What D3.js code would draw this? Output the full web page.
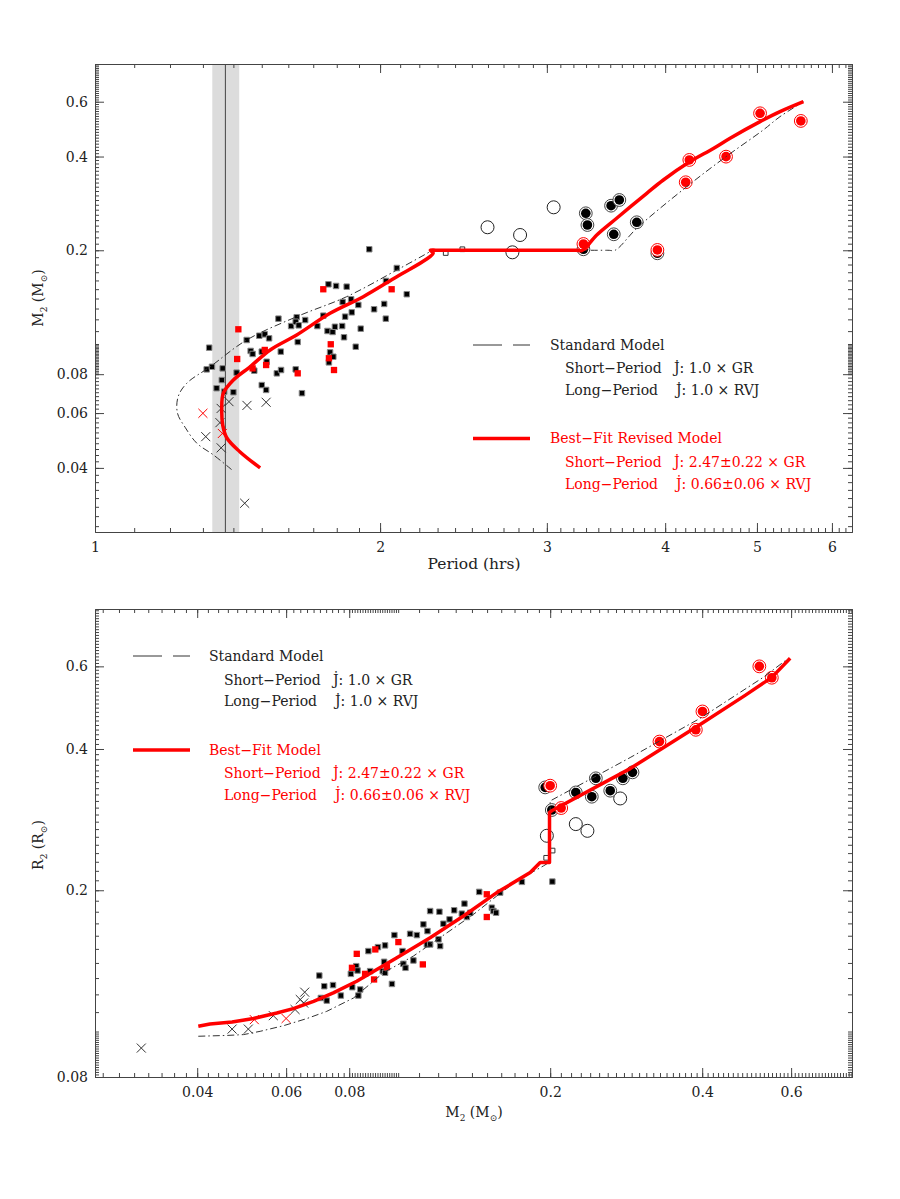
<!DOCTYPE html>
<html>
<head>
<meta charset="utf-8">
<script src="https://cdn.jsdelivr.net/npm/d3@7"></script>
<style>
body { margin: 0; background: #fff; }
svg text { font-family: "DejaVu Serif", serif; }
</style>
</head>
<body>
<svg id="chart" width="900" height="1199"></svg>
<script>
// ---- top panel: period (hrs) vs donor mass ----
var topSquaresBlack = [[1.320,0.0973],[1.312,0.0829],[1.329,0.0845],[1.364,0.0835],[1.361,0.0766],[1.344,0.0721],[1.369,0.0703],[1.400,0.0700],[1.411,0.0809],[1.446,0.1030],[1.491,0.1063],[1.511,0.1074],[1.527,0.1043],[1.460,0.0950],[1.467,0.0929],[1.500,0.0945],[1.518,0.0877],[1.473,0.0821],[1.500,0.0738],[1.516,0.0712],[1.556,0.0805],[1.572,0.0825],[1.571,0.0945],[1.562,0.1206],[1.611,0.1142],[1.633,0.1219],[1.629,0.1179],[1.641,0.1148],[1.667,0.1194],[1.629,0.0829],[1.637,0.1015],[1.654,0.0695],[1.717,0.1142],[1.742,0.1233],[1.764,0.1555],[1.797,0.1536],[1.844,0.1528],[1.826,0.1364],[1.864,0.1392],[1.837,0.1224],[1.867,0.1264],[1.897,0.1335],[1.760,0.1101],[1.782,0.1093],[1.792,0.1136],[1.824,0.1142],[1.832,0.1051],[1.908,0.1120],[1.885,0.0980],[1.771,0.0940],[1.785,0.0910],[1.766,0.0873],[1.948,0.2015],[1.971,0.1293],[2.020,0.1345],[2.028,0.1206],[2.029,0.1594],[2.083,0.1754],[2.134,0.1445]];
var topSquaresRed = [[1.417,0.1115],[1.413,0.0895],[1.467,0.0835],[1.511,0.0957],[1.516,0.0856],[1.637,0.0805],[1.742,0.1499],[1.774,0.0998],[1.766,0.0900],[1.788,0.0825],[2.057,0.1499]];
var topSquaresOpen = [[2.346,0.196],[2.443,0.2015]];
var topCrossesBlack = [[1.309,0.0504],[1.359,0.0621],[1.355,0.0559],[1.359,0.0464],[1.385,0.0653],[1.447,0.0635],[1.516,0.0650],[1.439,0.0308]];
var topCrossesRed = [[1.300,0.0599],[1.363,0.0516]];
var topCirclesOpen = [[2.597,0.2371],[2.811,0.2239],[3.050,0.2748],[2.759,0.1970]];
var topCirclesBlack = [[3.298,0.2629],[3.311,0.2411],[3.507,0.2781],[3.578,0.2901],[3.530,0.2251],[3.733,0.2460],[3.279,0.2015],[3.925,0.1956]];
var topCirclesRed = [[3.279,0.2095],[3.925,0.2005],[4.242,0.3901],[4.205,0.3307],[4.638,0.3997],[5.038,0.5508],[5.563,0.5205]];
var topModelStd = [[1.394,0.0395],[1.334,0.044],[1.281,0.048],[1.245,0.054],[1.222,0.0600],[1.224,0.0677],[1.250,0.0748],[1.323,0.0845],[1.446,0.1030],[1.633,0.1224],[1.844,0.1419],[2.083,0.1728],[2.258,0.198],[2.27,0.2],[2.32,0.2],[3.48,0.2],[3.541,0.2],[3.733,0.2353],[4.215,0.3200],[4.638,0.3997],[5.078,0.487],[5.288,0.5372],[5.598,0.6]];
var topModelFit = [[1.494,0.040],[1.422,0.0451],[1.378,0.0499],[1.364,0.055],[1.361,0.061],[1.366,0.0694],[1.400,0.0766],[1.458,0.0845],[1.531,0.0957],[1.633,0.1069],[1.771,0.1255],[1.920,0.1419],[2.083,0.1645],[2.240,0.1875],[2.276,0.196],[2.26,0.2],[2.30,0.2],[3.22,0.2],[3.27,0.2],[3.387,0.2239],[3.555,0.2534],[3.825,0.3048],[3.982,0.3363],[4.242,0.3840],[4.497,0.4246],[4.684,0.458],[5.038,0.5177],[5.288,0.5573],[5.598,0.6]];
var periodBand = [1.33, 1.42];
var periodMin = 1.373;

// ---- bottom panel: donor mass vs donor radius ----
var botSquaresBlack = [[0.0698,0.1316],[0.0714,0.1249],[0.0743,0.1256],[0.0703,0.1179],[0.0722,0.1164],[0.0770,0.1193],[0.0806,0.1327],[0.0826,0.1378],[0.0831,0.1349],[0.0811,0.1243],[0.0841,0.1229],[0.0834,0.1193],[0.0873,0.1484],[0.0880,0.1345],[0.0912,0.1513],[0.0942,0.1526],[0.0938,0.1408],[0.0932,0.1345],[0.0972,0.1263],[0.0983,0.1605],[0.1020,0.1484],[0.1024,0.1394],[0.1034,0.1367],[0.1056,0.1615],[0.1072,0.1417],[0.1089,0.1605],[0.1122,0.1692],[0.1143,0.1637],[0.1157,0.1806],[0.1229,0.1697],[0.1264,0.1734],[0.1291,0.1813],[0.1202,0.1572],[0.1211,0.1521],[0.1140,0.1533],[0.1447,0.1984],[0.1353,0.1873],[0.1207,0.1800],[0.1337,0.1783],[0.1368,0.1754],[0.1389,0.1791],[0.1533,0.1836],[0.1544,0.1806],[0.1563,0.1791],[0.1758,0.2084],[0.1592,0.1977],[0.0942,0.1334],[0.1157,0.1533],[0.2020,0.2087]];
var botSquaresRed = [[0.0828,0.1464],[0.0810,0.1367],[0.0860,0.1327],[0.0901,0.1496],[0.0896,0.1291],[0.1001,0.1551],[0.1119,0.1390],[0.1498,0.1961],[0.1498,0.1754],[0.0950,0.1371]];
var botSquaresOpen = [[0.1964,0.2345],[0.2022,0.2430]];
var botCrossesBlack = [[0.031,0.0922],[0.0469,0.1012],[0.0505,0.1012],[0.0566,0.1081],[0.0625,0.1114],[0.0640,0.1170],[0.0653,0.1213],[0.0650,0.1150]];
var botCrossesRed = [[0.0519,0.1060],[0.0600,0.1066]];
var botCirclesOpen = [[0.1970,0.2613],[0.2248,0.2767],[0.2370,0.2677],[0.2752,0.3138]];
var botCirclesBlack = [[0.1955,0.3313],[0.2015,0.2965],[0.2248,0.3232],[0.2418,0.3165],[0.2463,0.3464],[0.2630,0.3260],[0.2786,0.3464],[0.2911,0.3567]];
var botCirclesRed = [[0.2000,0.3341],[0.2103,0.2994],[0.3292,0.4148],[0.3886,0.4395],[0.4005,0.4809],[0.5191,0.6000],[0.5495,0.5674]];
var botModelStd = [[0.0402,0.0977],[0.0458,0.0981],[0.0494,0.0985],[0.0533,0.1001],[0.0593,0.1029],[0.0660,0.1066],[0.0722,0.1104],[0.0816,0.1179],[0.0935,0.1334],[0.1072,0.1448],[0.1249,0.1623],[0.1410,0.1777],[0.1568,0.1945],[0.1718,0.2094],[0.1940,0.2254],[0.2,0.23],[0.2,0.31],[0.288,0.3835],[0.3963,0.4650],[0.5283,0.5684],[0.5891,0.6211]];
var botModelFit = [[0.0402,0.1026],[0.0424,0.1038],[0.0469,0.1048],[0.0517,0.1066],[0.0575,0.1095],[0.0620,0.1119],[0.0680,0.1160],[0.0744,0.1209],[0.0828,0.1280],[0.0994,0.1436],[0.1157,0.1584],[0.1347,0.1763],[0.1568,0.1977],[0.1826,0.2182],[0.1911,0.2291],[0.1994,0.2291],[0.1994,0.2931],[0.2015,0.2954],[0.2880,0.3633],[0.3963,0.4510],[0.4865,0.5203],[0.5495,0.5684],[0.5974,0.6241]];

// tick labels
var periodTicks = [1, 2, 3, 4, 5, 6];
var massTicks = [0.04, 0.06, 0.08, 0.2, 0.4, 0.6];
var radiusTicks = [0.08, 0.2, 0.4, 0.6];

var RED = "#ff0000";
var INK = "#222";

var svg = d3.select("#chart");
svg.append("rect").attr("width", 900).attr("height", 1199).attr("fill", "#fff");

function logMinors(lo, hi) {
  var out = [];
  [[0.02, 0.08, 0.002], [0.08, 0.1, 0.001], [0.1, 1, 0.01]].forEach(function(s) {
    for (var i = 0; s[0] + i * s[2] < s[1] - 1e-9; i++) {
      var v = +(s[0] + i * s[2]).toFixed(4);
      if (v >= lo && v <= hi) out.push(v);
    }
  });
  return out;
}
function periodMinors(lo, hi) {
  var out = [];
  for (var i = 10; i <= 63; i++) { if (i / 10 >= lo && i / 10 <= hi) out.push(i / 10); }
  return out;
}

function drawAxes(g, x, y, xMaj, xMin, yMaj, yMin) {
  var xr = x.range(), yr = y.range();
  var fmt = function(d) { return String(d); };
  var defs = [
    [d3.axisBottom, x, "translate(0," + yr[0] + ")", true, 10],
    [d3.axisTop, x, "translate(0," + yr[1] + ")", false, 0],
    [d3.axisLeft, y, "translate(" + xr[0] + ",0)", true, 7],
    [d3.axisRight, y, "translate(" + xr[1] + ",0)", false, 0]
  ];
  defs.forEach(function(a) {
    var isX = a[1] === x;
    g.append("g").attr("transform", a[2])
      .call(a[0](a[1]).tickValues(isX ? xMin : yMin).tickSizeInner(-4).tickSizeOuter(0).tickFormat(""));
    var maj = g.append("g").attr("transform", a[2])
      .call(a[0](a[1]).tickValues(isX ? xMaj : yMaj).tickSizeInner(-9).tickSizeOuter(0)
        .tickPadding(a[4]).tickFormat(a[3] ? fmt : ""));
    maj.selectAll("text").attr("font-size", 14).attr("fill", INK)
      .attr("font-family", "DejaVu Serif");
  });
  g.selectAll(".domain").attr("stroke", "#444");
  g.selectAll(".tick line").attr("stroke", "#444");
  g.selectAll("g").attr("font-family", "DejaVu Serif");
}

function subLabel(t, letter) {
  t.append("tspan").text(letter);
  t.append("tspan").attr("font-size", 9).attr("dy", 4).text("2");
  t.append("tspan").attr("dy", -4).text(" (" + letter);
  t.append("tspan").attr("font-size", 9).attr("dy", 4).text("\u2299");
  t.append("tspan").attr("dy", -4).text(")");
}

function squares(g, data, x, y, size, fill, stroke) {
  g.append("g").selectAll("path").data(data).join("path")
    .attr("transform", function(d) { return "translate(" + x(d[0]) + "," + y(d[1]) + ")"; })
    .attr("d", d3.symbol(d3.symbolSquare, size))
    .attr("fill", fill).attr("stroke", stroke).attr("stroke-width", stroke === "none" ? 0 : 1);
}
function crosses(g, data, x, y, color) {
  g.append("g").selectAll("path").data(data).join("path")
    .attr("transform", function(d) { return "translate(" + x(d[0]) + "," + y(d[1]) + ")"; })
    .attr("d", d3.symbol(d3.symbolX, 55))
    .attr("fill", "none").attr("stroke", color).attr("stroke-width", 1);
}
function circles(g, data, x, y, kind) {
  var gg = g.append("g").selectAll("g").data(data).join("g")
    .attr("transform", function(d) { return "translate(" + x(d[0]) + "," + y(d[1]) + ")"; });
  if (kind === "open") {
    gg.append("circle").attr("r", 6.5).attr("fill", "none").attr("stroke", INK).attr("stroke-width", 1);
  } else {
    var c = kind === "red" ? RED : "#000";
    gg.append("circle").attr("r", 6.4).attr("fill", "#fff").attr("stroke", kind === "red" ? RED : "#444").attr("stroke-width", 1);
    gg.append("circle").attr("r", 4.8).attr("fill", c);
  }
}

function drawMarks(g, x, y, s, curve) {
  crosses(g, s.crossB, x, y, "#333");
  crosses(g, s.crossR, x, y, RED);
  squares(g, s.sqB, x, y, 30, "#000", "#888");
  squares(g, s.sqR, x, y, 40, RED, "none");
  squares(g, s.sqO, x, y, 22, "#fff", "#333");
  circles(g, s.cO, x, y, "open");
  circles(g, s.cB, x, y, "black");
  circles(g, s.cR, x, y, "red");
  var line = d3.line().curve(curve).x(function(d) { return x(d[0]); }).y(function(d) { return y(d[1]); });
  g.append("path").datum(s.std).attr("d", line).attr("fill", "none")
    .attr("stroke", "#333").attr("stroke-width", 1).attr("stroke-dasharray", "7,3,1.5,3");
  g.append("path").datum(s.fit).attr("d", line).attr("fill", "none")
    .attr("stroke", RED).attr("stroke-width", 3.5).attr("stroke-linejoin", "round");
}

function legend(g, lx0, lx1, tx, ys, fitTitle) {
  g.append("line").attr("x1", lx0).attr("x2", lx1).attr("y1", ys[0]).attr("y2", ys[0])
    .attr("stroke", "#333").attr("stroke-width", 1).attr("stroke-dasharray", "29,11,17");
  g.append("line").attr("x1", lx0).attr("x2", lx1).attr("y1", ys[3]).attr("y2", ys[3])
    .attr("stroke", RED).attr("stroke-width", 3.5);
  var rows = [
    [tx, ys[0], "Standard Model", INK],
    [tx + 15, ys[1], "Short\u2212Period", INK],
    [tx + 124, ys[1], "J\u0307: 1.0 \u00d7 GR", INK],
    [tx + 15, ys[2], "Long\u2212Period", INK],
    [tx + 126, ys[2], "J\u0307: 1.0 \u00d7 RVJ", INK],
    [tx, ys[3], fitTitle, RED],
    [tx + 15, ys[4], "Short\u2212Period", RED],
    [tx + 124, ys[4], "J\u0307: 2.47\u00b10.22 \u00d7 GR", RED],
    [tx + 15, ys[5], "Long\u2212Period", RED],
    [tx + 126, ys[5], "J\u0307: 0.66\u00b10.06 \u00d7 RVJ", RED]
  ];
  g.selectAll(null).data(rows).join("text")
    .attr("x", function(d) { return d[0]; }).attr("y", function(d) { return d[1]; })
    .attr("dy", "0.35em").attr("font-size", 14).attr("fill", function(d) { return d[3]; })
    .text(function(d) { return d[2]; });
}

// ---------- top panel ----------
var xT = d3.scaleLog().domain([1, 6.3]).range([95, 852]);
var yT = d3.scaleLog().domain([0.0249, 0.793]).range([532, 64]);
var gT = svg.append("g");

gT.append("rect").attr("x", xT(periodBand[0])).attr("y", 64)
  .attr("width", xT(periodBand[1]) - xT(periodBand[0])).attr("height", 468).attr("fill", "#dcdcdc");
gT.append("line").attr("x1", xT(periodMin)).attr("x2", xT(periodMin)).attr("y1", 64).attr("y2", 532)
  .attr("stroke", "#444").attr("stroke-width", 1);

drawMarks(gT, xT, yT, {
  crossB: topCrossesBlack, crossR: topCrossesRed,
  sqB: topSquaresBlack, sqR: topSquaresRed, sqO: topSquaresOpen,
  cO: topCirclesOpen, cB: topCirclesBlack, cR: topCirclesRed,
  std: topModelStd, fit: topModelFit
}, d3.curveCatmullRom.alpha(0.5));
drawAxes(gT, xT, yT, periodTicks, periodMinors(1, 6.3), massTicks, logMinors(0.0249, 0.793));
legend(gT, 473, 530, 550, [345, 368.5, 390.5, 438.5, 462.5, 484], "Best\u2212Fit Revised Model");

gT.append("text").attr("x", 474).attr("y", 569).attr("text-anchor", "middle")
  .attr("font-size", 15.5).attr("fill", INK).text("Period (hrs)");
subLabel(gT.append("text").attr("transform", "translate(43,298) rotate(-90)")
  .attr("text-anchor", "middle").attr("font-size", 14).attr("fill", INK), "M");

// ---------- bottom panel ----------
var xB = d3.scaleLog().domain([0.0251, 0.792]).range([95, 852]);
var yB = d3.scaleLog().domain([0.08, 0.795]).range([1077, 609]);
var gB = svg.append("g");

drawMarks(gB, xB, yB, {
  crossB: botCrossesBlack, crossR: botCrossesRed,
  sqB: botSquaresBlack, sqR: botSquaresRed, sqO: botSquaresOpen,
  cO: botCirclesOpen, cB: botCirclesBlack, cR: botCirclesRed,
  std: botModelStd, fit: botModelFit
}, d3.curveLinear);
drawAxes(gB, xB, yB, massTicks, logMinors(0.0251, 0.792), radiusTicks, logMinors(0.08, 0.795));
legend(gB, 133, 190, 209, [656, 680, 701.5, 750, 773.5, 795], "Best\u2212Fit Model");

subLabel(gB.append("text").attr("x", 474).attr("y", 1117).attr("text-anchor", "middle")
  .attr("font-size", 14).attr("fill", INK), "M");
subLabel(gB.append("text").attr("transform", "translate(43,845) rotate(-90)")
  .attr("text-anchor", "middle").attr("font-size", 14).attr("fill", INK), "R");
</script>
</body>
</html>
